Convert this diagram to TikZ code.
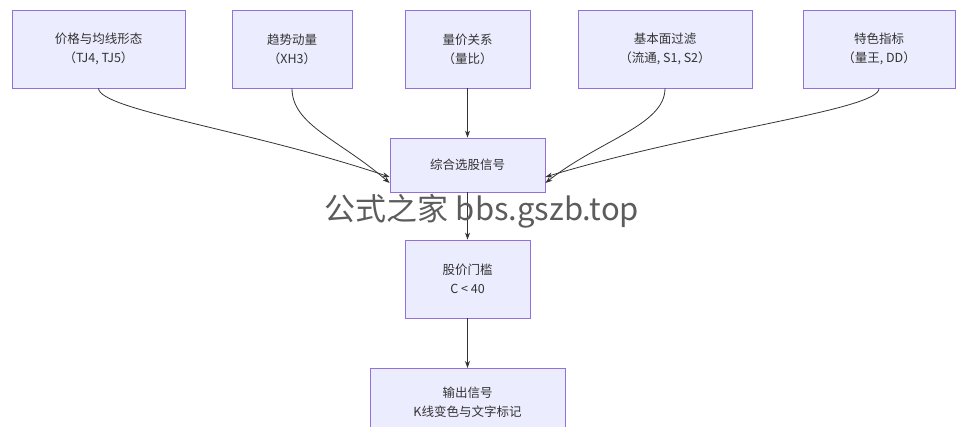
\documentclass[tikz,border=0pt]{standalone}
\usepackage{fontspec}
\setmainfont{Noto Sans CJK SC}
\usetikzlibrary{arrows.meta}
\begin{document}
\begin{tikzpicture}[x=1pt,y=-1pt,
  box/.style={draw=#1,fill=boxfill,line width=0.8pt,align=center,text=txt,font=\fontsize{12.5}{19}\selectfont,inner sep=0pt},
  box/.default=boxline,
  arr/.style={draw=arrc,line width=0.8pt,-{Stealth[length=7pt,width=5pt]}}]
\definecolor{boxfill}{HTML}{ECECFF}
\definecolor{boxline}{HTML}{9370DB}
\definecolor{txt}{HTML}{333333}
\definecolor{arrc}{HTML}{333333}
\useasboundingbox (0,0) rectangle (965,427);
\clip (0,0) rectangle (965,427);
\node[box,minimum width=173,minimum height=78] (a) at (98.5,49) {价格与均线形态\\（TJ4, TJ5）};
\node[box,minimum width=120,minimum height=78] (b) at (292,49) {趋势动量\\（XH3）};
\node[box,minimum width=125,minimum height=78] (c) at (467.5,49) {量价关系\\（量比）};
\node[box,minimum width=174,minimum height=78] (d) at (665,49) {基本面过滤\\（流通, S1, S2）};
\node[box,minimum width=152,minimum height=78] (e) at (879,49) {特色指标\\（量王, DD）};
\node[box,minimum width=155,minimum height=54] (f) at (467.5,165) {综合选股信号};
\node[box,minimum width=125,minimum height=78] (g) at (467.5,279) {股价门槛\\C < 40};
\node[box,minimum width=195,minimum height=80,anchor=north] (h) at (467.5,368) {};
\node[text=txt,font=\fontsize{12.5}{19}\selectfont,align=center,anchor=north] at (467.5,383) {输出信号\\K线变色与文字标记};
\draw[arr] (a.south) .. controls (100,110) and (250,130) .. ([yshift=-12]f.west);
\draw[arr] (b.south) .. controls (292,125) and (340,140) .. ([yshift=-18]f.west);
\draw[arr] (c.south) -- (f.north);
\draw[arr] (d.south) .. controls (665,125) and (600,140) .. ([yshift=-18]f.east);
\draw[arr] (e.south) .. controls (880,110) and (700,130) .. ([yshift=-12]f.east);
\draw[arr] (f.south) -- (g.north);
\draw[arr] (g.south) -- (h.north);
\node[text=txt!80,font=\fontsize{31}{34}\selectfont] at (482,211) {公式之家 bbs.gszb.top};
\end{tikzpicture}
\end{document}
